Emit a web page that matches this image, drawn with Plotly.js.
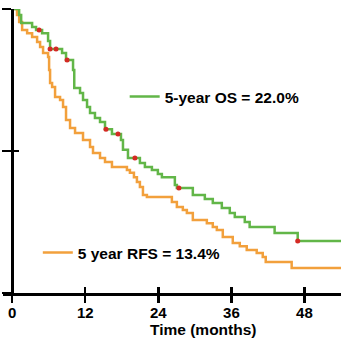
<!DOCTYPE html>
<html>
<head>
<meta charset="utf-8">
<script src="https://cdn.plot.ly/plotly-3.0.1.min.js"></script>
<style>html,body{margin:0;padding:0;background:#fff;}#chart{width:341px;height:341px;}</style>
</head>
<body>
<div id="chart"></div>
<script>
// Overall survival (OS) step curve: event times (months) and survival after each step
const osTime = [0, 1.15, 1.48, 3.28, 3.93, 4.92, 5.9, 6.23, 8.2, 8.85, 10.0, 10.2, 11.15, 11.64, 12.3, 12.79, 13.6, 14.43, 15.25, 16.39, 17.87, 18.2, 19.02, 20.98, 21.8, 22.95, 23.93, 24.59, 26.72, 27.05, 29.67, 31.64, 32.95, 34.43, 35.74, 36.56, 38.2, 39.0, 43.1, 46.89, 54];
const osSurv = [1, 0.979, 0.951, 0.937, 0.926, 0.915, 0.887, 0.859, 0.845, 0.820, 0.785, 0.722, 0.704, 0.680, 0.655, 0.634, 0.616, 0.602, 0.577, 0.560, 0.539, 0.504, 0.475, 0.458, 0.444, 0.433, 0.419, 0.408, 0.380, 0.370, 0.345, 0.331, 0.317, 0.299, 0.282, 0.268, 0.250, 0.232, 0.211, 0.183, 0.183];
// Censored observations on the OS curve
const osCensorTime = [4.43, 6.23, 7.21, 9.02, 15.41, 17.38, 20.16, 27.38, 46.89];
const osCensorSurv = [0.926, 0.859, 0.859, 0.820, 0.577, 0.560, 0.475, 0.370, 0.183];
// Recurrence-free survival (RFS) step curve
const rfsTime = [0, 0.8, 1.15, 1.64, 2.46, 3.28, 4.1, 4.59, 5.08, 5.9, 6.07, 6.23, 6.56, 7.05, 7.87, 8.36, 8.85, 9.51, 10.33, 11.64, 12.79, 13.28, 14.43, 15.25, 16.39, 18.85, 19.34, 20.0, 20.49, 20.98, 21.48, 22.13, 26.23, 27.05, 28.03, 28.69, 29.67, 31.97, 32.95, 33.61, 34.59, 36.23, 37.38, 38.52, 40.16, 41.15, 41.64, 45.9, 54];
const rfsSurv = [1, 0.979, 0.954, 0.926, 0.915, 0.901, 0.884, 0.866, 0.845, 0.831, 0.785, 0.739, 0.725, 0.690, 0.680, 0.655, 0.609, 0.581, 0.563, 0.539, 0.514, 0.493, 0.475, 0.461, 0.444, 0.433, 0.423, 0.408, 0.391, 0.373, 0.345, 0.338, 0.320, 0.303, 0.292, 0.282, 0.257, 0.246, 0.232, 0.222, 0.197, 0.176, 0.165, 0.151, 0.141, 0.127, 0.109, 0.088, 0.088];
// Labels
const osLabel = "5-year OS = 22.0%";
const rfsLabel = "5 year RFS = 13.4%";
const xTickVals = [0, 12, 24, 36, 48];
const xTickText = ["0", "12", "24", "36", "48"];
const yTickVals = [0, 0.5, 1];
const xTitle = "Time (months)";

const GREEN = "#62b648";
const ORANGE = "#f2a03c";
const FONT = "Liberation Sans, Arial, sans-serif";
const xRange = [-1.5, 54];
const yAxisPos = (0 - xRange[0]) / (xRange[1] - xRange[0]);

const traces = [
  {x: rfsTime, y: rfsSurv, mode: "lines", line: {shape: "hv", color: ORANGE, width: 2.5}, name: rfsLabel, legend: "legend2"},
  {x: osTime, y: osSurv, mode: "lines", line: {shape: "hv", color: GREEN, width: 2.5}, name: osLabel, legend: "legend"},
  {x: osCensorTime, y: osCensorSurv, mode: "markers", marker: {color: "#d42a24", size: 5}, showlegend: false, hoverinfo: "skip"}
];

const tickFont = {family: FONT, size: 15, color: "#000", weight: "bold"};
const legFont = {family: FONT, size: 15.5, color: "#000", weight: "bold"};
const layout = {
  width: 341, height: 341,
  margin: {l: 3, r: 0, t: 9, b: 48},
  paper_bgcolor: "#fff", plot_bgcolor: "#fff",
  showlegend: true,
  xaxis: {range: xRange, tickvals: xTickVals, ticktext: xTickText, ticks: "inside", ticklen: 6, tickwidth: 2.5, tickcolor: "#000",
          ticklabelstandoff: 4,
          showline: true, linecolor: "#000", linewidth: 2.5, showgrid: false, zeroline: false, tickfont: tickFont, fixedrange: true},
  xaxis2: {range: xRange, overlaying: "x", anchor: "y", side: "bottom", tickvals: xTickVals, showticklabels: false, ticks: "outside", ticklen: 9, tickwidth: 2.5, tickcolor: "#000",
           showline: false, showgrid: false, zeroline: false},
  yaxis: {range: [0, 1], tickvals: yTickVals, showticklabels: false, ticks: "outside", ticklen: 9, tickwidth: 2.5, tickcolor: "#000",
          showline: true, linecolor: "#000", linewidth: 2.5, showgrid: false, zeroline: false, anchor: "free", position: yAxisPos},
  yaxis2: {range: [0, 1], overlaying: "y", tickvals: yTickVals, showticklabels: false, ticks: "inside", ticklen: 6, tickwidth: 2.5, tickcolor: "#000",
           showline: false, showgrid: false, zeroline: false, anchor: "free", position: yAxisPos},
  legend: {x: 0.36, y: 0.69, xanchor: "left", yanchor: "middle", bgcolor: "rgba(0,0,0,0)", font: legFont},
  legend2: {x: 0.103, y: 0.141, xanchor: "left", yanchor: "middle", bgcolor: "rgba(0,0,0,0)", font: legFont},
  annotations: [{text: xTitle, x: 31.5, xref: "x", y: 0, yref: "paper", yshift: -36, xanchor: "center", yanchor: "middle", showarrow: false,
                 font: {family: FONT, size: 15.5, color: "#000", weight: "bold"}}]
};
// invisible trace to activate the overlay axes used for the crossing tick marks
traces.push({x: [0], y: [0], xaxis: "x2", yaxis: "y2", mode: "markers", marker: {opacity: 0}, showlegend: false, hoverinfo: "skip"});

Plotly.newPlot("chart", traces, layout, {staticPlot: true, displayModeBar: false});
</script>
</body>
</html>
